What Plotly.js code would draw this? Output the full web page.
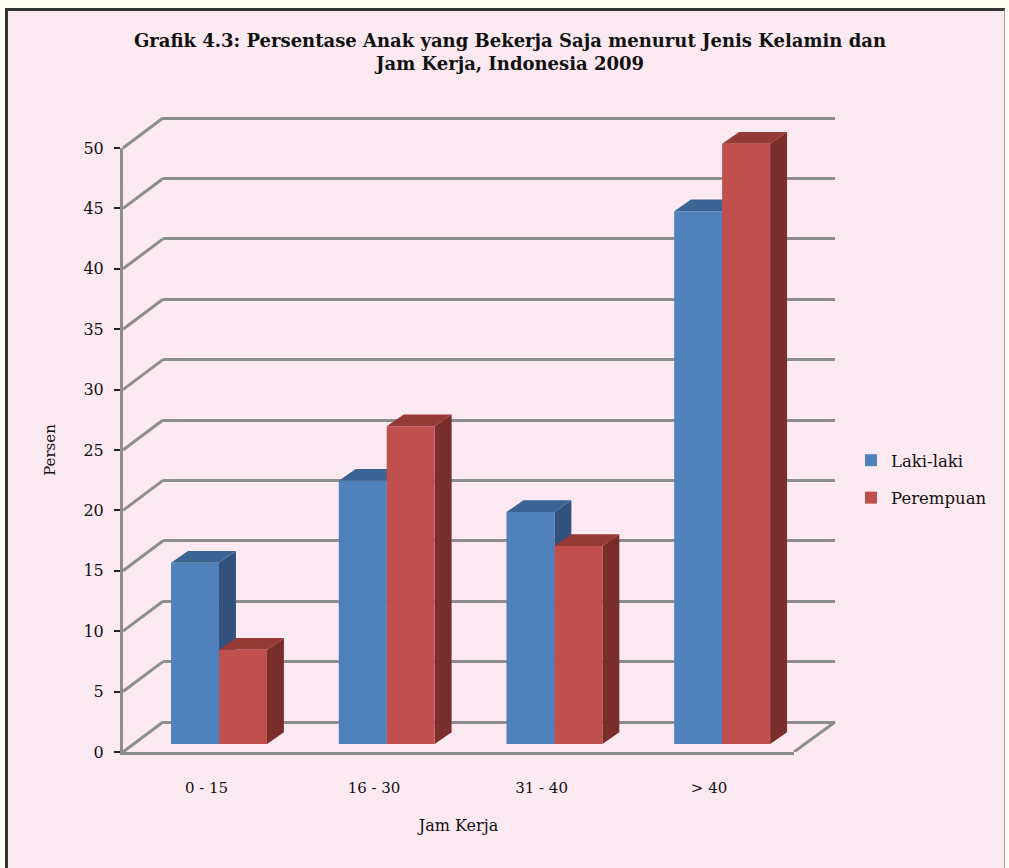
<!DOCTYPE html>
<html>
<head>
<meta charset="utf-8">
<script src="https://cdn.plot.ly/plotly-3.0.1.min.js"></script>
<style>
  html, body { margin: 0; padding: 0; background: #FEFEF2; width: 1009px; height: 868px; overflow: hidden; }
  #frame { position: absolute; left: 5px; top: 8px; width: 1000px; height: 870px; background: #FDE9F1;
           border-left: 3px solid #333; border-top: 3px solid #333; border-right: 1px solid #a0a0a0; box-sizing: border-box; }
  #chart { position: absolute; left: 0; top: 0; width: 1009px; height: 868px; }
</style>
</head>
<body>
<div id="frame"></div>
<div id="chart"></div>
<script>
// ---- data ----
const categories = ['0 - 15', '16 - 30', '31 - 40', '> 40'];
const lakiLaki   = [15.0, 21.8, 19.2, 44.1];
const perempuan  = [7.8, 26.3, 16.4, 49.7];
const seriesNames = ['Laki-laki', 'Perempuan'];
const yTicks = [0, 5, 10, 15, 20, 25, 30, 35, 40, 45, 50];

// ---- style ----
const serif = 'DejaVu Serif, Liberation Serif, serif';
const gridGray = '#8d8d8d';
const blue = { front: '#4F81BD', top: '#3B6494', side: '#30527D' };
const red  = { front: '#C0504D', top: '#963A37', side: '#7A2E2C' };
const barW = 0.286;            // bar width in category units
const depthX = 0.101, depthY = 0.97;  // oblique depth of bars (axis units)
const wallX = 40 / 712;        // side-wall depth (paper fraction)
const wallY = 2.48;            // side-wall rise (gridline-axis units)

const idx = categories.map((c, i) => i);

const traces = [
  { type: 'scatter', x: [], y: [], xaxis: 'x', yaxis: 'y', showlegend: false, hoverinfo: 'skip' },
  { type: 'scatter', x: [], y: [], xaxis: 'x2', yaxis: 'y2', showlegend: false, hoverinfo: 'skip' },
  { type: 'bar', name: seriesNames[0], x: idx, y: lakiLaki, xaxis: 'x3', yaxis: 'y3',
    width: barW, offset: -barW, marker: { color: blue.front, line: { width: 0 } },
    legendgroup: 'a' },
  { type: 'bar', name: seriesNames[1], x: idx, y: perempuan, xaxis: 'x3', yaxis: 'y3',
    width: barW, offset: 0, marker: { color: red.front, line: { width: 0 } },
    legendgroup: 'b' }
];

// ---- decorative 3D shapes derived from data ----
const shapes = [];
function poly(pts) { return 'M' + pts.map(p => p[0] + ',' + p[1]).join('L') + 'Z'; }
idx.forEach(i => {
  [[lakiLaki[i], -barW, blue], [perempuan[i], 0, red]].forEach(([v, off, col]) => {
    const xl = i + off, xr = i + off + barW;
    shapes.push({ type: 'path', xref: 'x3', yref: 'y3', layer: 'between', line: { width: 0 },
      fillcolor: col.side,
      path: poly([[xr, 0], [xr, v], [xr + depthX, v + depthY], [xr + depthX, depthY]]) });
    shapes.push({ type: 'path', xref: 'x3', yref: 'y3', layer: 'between', line: { width: 0 },
      fillcolor: col.top,
      path: poly([[xl, v], [xr, v], [xr + depthX, v + depthY], [xl + depthX, v + depthY]]) });
  });
});
yTicks.forEach(v => {
  shapes.push({ type: 'line', xref: 'paper', yref: 'y', layer: 'below',
    x0: 0, y0: v - wallY, x1: wallX, y1: v, line: { color: gridGray, width: 3 } });
});
shapes.push({ type: 'line', xref: 'paper', yref: 'y', layer: 'below',
  x0: (794 - 123) / 712, y0: -wallY, x1: 1, y1: 0, line: { color: gridGray, width: 3 } });

const layout = {
  width: 1009, height: 868,
  paper_bgcolor: 'rgba(0,0,0,0)', plot_bgcolor: 'rgba(0,0,0,0)',
  margin: { l: 123, r: 174, t: 112, b: 116 },
  font: { family: serif, color: '#1a1a1a', size: 15 },
  title: {
    text: 'Grafik 4.3: Persentase Anak yang Bekerja Saja menurut Jenis Kelamin dan<br>Jam Kerja, Indonesia 2009',
    font: { family: serif, size: 18, color: '#111', weight: 'bold' },
    x: 510 / 1009, xanchor: 'center', xref: 'container',
    y: 1 - 47 / 868, yanchor: 'top', yref: 'container'
  },
  showlegend: true,
  legend: { x: 1.0225, xanchor: 'left', y: 0.4266, yanchor: 'middle',
    bgcolor: 'rgba(0,0,0,0)', font: { family: serif, size: 16.5, color: '#111' },
    tracegroupgap: 13, traceorder: 'grouped', itemwidth: 30 },
  xaxis: { domain: [wallX, 1], range: [0, 1], visible: false, fixedrange: true },
  yaxis: { domain: [0, 1], range: [-2.483, 50.5], tickvals: yTicks, showgrid: true,
    gridcolor: gridGray, gridwidth: 3, zeroline: false, showticklabels: false,
    ticks: '', showline: false, anchor: 'x', fixedrange: true },
  xaxis2: { domain: [0, (794 - 123) / 712], range: [-0.4985, 3.507], anchor: 'y2',
    tickmode: 'array', tickvals: idx, ticktext: categories, ticks: '', showgrid: false,
    zeroline: false, showline: true, linecolor: gridGray, linewidth: 3,
    tickfont: { family: serif, size: 15, color: '#111' }, ticklabelstandoff: 20,
    title: { text: 'Jam Kerja', font: { family: serif, size: 16, color: '#111' }, standoff: 24 } },
  yaxis2: { domain: [0, 604 / 640], range: [0, 50], anchor: 'x2', tickvals: yTicks,
    ticks: 'outside', ticklen: 6, tickwidth: 2, tickcolor: '#222', showgrid: false,
    zeroline: false, showline: true, linecolor: gridGray, linewidth: 3,
    tickfont: { family: serif, size: 16, color: '#111' }, ticklabelstandoff: 7,
    title: { text: 'Persen', font: { family: serif, size: 15, color: '#111' }, standoff: 25 } },
  xaxis3: { domain: [0, 1], range: [-0.5725, 3.673], anchor: 'y3', visible: false, fixedrange: true },
  yaxis3: { domain: [0, 1], range: [-0.662, 52.32], anchor: 'x3', visible: false, fixedrange: true },
  barmode: 'overlay',
  shapes: shapes
};

Plotly.newPlot('chart', traces, layout, { displayModeBar: false, staticPlot: true });
</script>
</body>
</html>
